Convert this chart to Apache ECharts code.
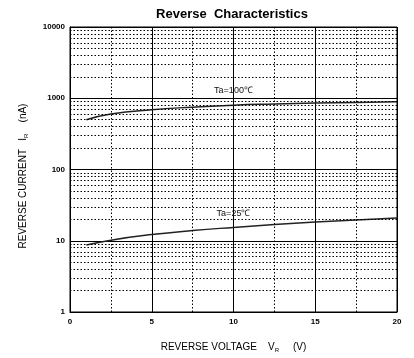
<!DOCTYPE html>
<html><head><meta charset="utf-8">
<script src="https://cdn.jsdelivr.net/npm/echarts@6/dist/echarts.min.js"></script>
<style>html,body{margin:0;padding:0;background:#fff}#c{width:414px;height:358px}</style>
</head><body><div id="c"></div>
<script>
const voltages = [1, 2.5, 5, 7.5, 10, 12.5, 15, 17.5, 20];
const current100 = [500, 600, 690, 750, 800, 830, 855, 875, 890];
const current25 = [8.7, 10.2, 12.2, 13.9, 15.4, 16.9, 18.3, 19.6, 20.8];
const xTicks = [0, 5, 10, 15, 20];
const yTicks = [1, 10, 100, 1000, 10000];
const minorX = [2.5, 7.5, 12.5, 17.5];
const minorY = [];
for (const d of [1, 10, 100, 1000]) for (let k = 2; k <= 9; k++) minorY.push(d * k);
const labels = [
  {text: 'Ta=100℃', x: 10, y: 1300},
  {text: 'Ta=25℃', x: 10, y: 24.5}
];
const font = 'Liberation Sans, Arial, sans-serif';
const chart = echarts.init(document.getElementById('c'));
const dotted = {color: '#000', width: 1, type: [1.5, 2]};
const lblStyle = {show: true, fontFamily: font, fontSize: 9, color: '#111', position: 'inside'};
const subRich = {s: {fontSize: 6, verticalAlign: 'bottom', padding: [6,0,0,0]}};
chart.setOption({
  animation: false,
  grid: {left: 70, right: 17, top: 27, bottom: 46, show: true, borderColor: '#000', borderWidth: 1},
  xAxis: {type: 'value', min: 0, max: 20, interval: 5,
    name: 'REVERSE VOLTAGE    V{s|R}     (V)', nameLocation: 'middle', nameGap: 29,
    nameTextStyle: {fontFamily: font, fontSize: 10, color: '#000', rich: subRich},
    axisLine: {show: true, lineStyle: {color: '#000'}}, axisTick: {show: false},
    axisLabel: {fontFamily: font, fontSize: 8, fontWeight: 'bold', color: '#000', margin: 6,
      formatter: v => xTicks.includes(v) ? String(v) : ''},
    splitLine: {show: true, lineStyle: {color: '#000', width: 1}}},
  yAxis: {type: 'log', min: 1, max: 10000, logBase: 10,
    axisLine: {show: true, lineStyle: {color: '#000'}}, axisTick: {show: false},
    axisLabel: {fontFamily: font, fontSize: 8, fontWeight: 'bold', color: '#000', margin: 5,
      formatter: v => yTicks.includes(Math.round(v)) ? String(Math.round(v)) : ''},
    splitLine: {show: true, lineStyle: {color: '#000', width: 1}}},
  graphic: [
    {type: 'text', x: 232, y: 14,
      style: {text: 'Reverse  Characteristics', fontFamily: font, fontSize: 13, fontWeight: 'bold',
        fill: '#000', align: 'center', verticalAlign: 'middle'}},
    {type: 'text', x: 23, y: 176, rotation: Math.PI / 2,
    style: {text: 'REVERSE CURRENT   I{s|R}    (nA)', fontFamily: font, fontSize: 10, fill: '#000',
      align: 'center', verticalAlign: 'middle', rich: subRich}}],
  series: [
    {type: 'line', data: [], silent: true,
      markLine: {silent: true, symbol: 'none', label: {show: false}, lineStyle: dotted,
        data: minorX.map(v => ({xAxis: v})).concat(minorY.map(v => ({yAxis: v})))}},
    {type: 'line', smooth: true, showSymbol: false, data: voltages.map((v, i) => [v, current100[i]]),
      lineStyle: {color: '#222', width: 1.5},
      markPoint: {symbol: 'circle', symbolSize: 1, itemStyle: {color: 'rgba(0,0,0,0)'},
        data: [{coord: [labels[0].x, labels[0].y], value: 1}],
        label: Object.assign({formatter: labels[0].text}, lblStyle)}},
    {type: 'line', smooth: true, showSymbol: false, data: voltages.map((v, i) => [v, current25[i]]),
      lineStyle: {color: '#222', width: 1.5},
      markPoint: {symbol: 'circle', symbolSize: 1, itemStyle: {color: 'rgba(0,0,0,0)'},
        data: [{coord: [labels[1].x, labels[1].y], value: 1}],
        label: Object.assign({formatter: labels[1].text}, lblStyle)}}
  ]
});
</script></body></html>
